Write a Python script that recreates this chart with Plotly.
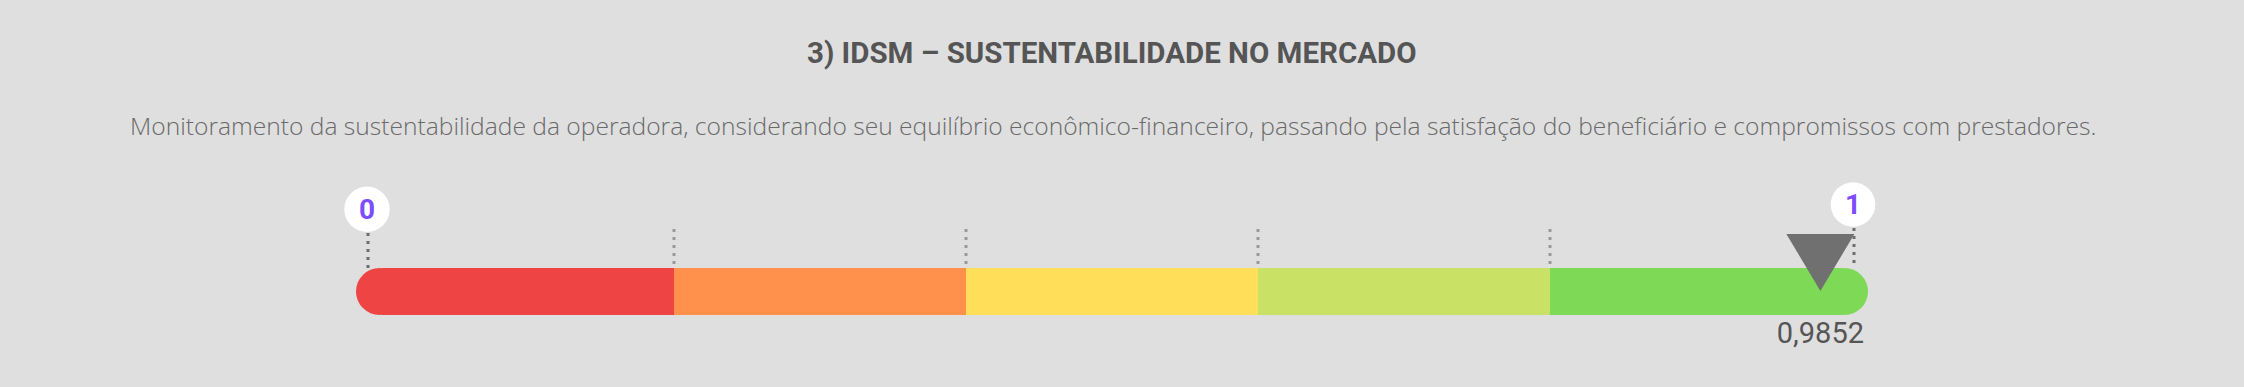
import plotly.graph_objects as go

# ---- data ----
title = "3) IDSM – SUSTENTABILIDADE NO MERCADO"
subtitle = ("Monitoramento da sustentabilidade da operadora, considerando seu equilíbrio "
            "econômico-financeiro, passando pela satisfação do beneficiário e compromissos com prestadores.")
thresholds = [0.0, 0.2, 0.4, 0.6, 0.8, 1.0]
band_colors = ["#EF4444", "#FF914D", "#FFDE59", "#C9E265", "#7ED957"]
scale_min, scale_max = 0, 1
value = 0.9852

W, H = 2244, 387
BG = "#DFDFDF"

# axis mapping: score 0..1 spans 1460 px starting at px 382
px0, span = 382.0, 1460.0
xr = [-px0 / span, (W - px0) / span]

bar_y, bar_h = 291.5, 47

fig = go.Figure()
fig.add_trace(go.Bar(
    orientation="h",
    base=thresholds[:-1],
    x=[thresholds[i + 1] - thresholds[i] for i in range(len(band_colors))],
    y=[bar_y] * len(band_colors),
    width=bar_h,
    marker=dict(color=band_colors, line=dict(width=0)),
    hoverinfo="skip",
    showlegend=False,
))

# value label
fig.add_trace(go.Scatter(
    x=[value], y=[336], mode="text",
    text=[f"{value:.4f}".replace(".", ",")],
    textfont=dict(family="Roboto", size=29, color="#555555"),
    hoverinfo="skip", showlegend=False,
))

shapes = []
# rounded caps
shapes.append(dict(type="circle", xref="x", yref="y", xsizemode="pixel", xanchor=thresholds[0],
                   x0=-26, x1=21, y0=bar_y - bar_h / 2, y1=bar_y + bar_h / 2,
                   fillcolor=band_colors[0], line=dict(width=0), layer="below"))
shapes.append(dict(type="circle", xref="x", yref="y", xsizemode="pixel", xanchor=thresholds[-1],
                   x0=-21, x1=26, y0=bar_y - bar_h / 2, y1=bar_y + bar_h / 2,
                   fillcolor=band_colors[-1], line=dict(width=0), layer="below"))

# dotted separators
for t in thresholds[1:-1]:
    shapes.append(dict(type="line", xref="x", yref="y", x0=t, x1=t, y0=229, y1=267,
                       line=dict(color="#9A9A9A", width=3, dash="3px,5px")))

# end markers
ends = [(scale_min, -15, 209.3, 22.7, 233), (scale_max, 11, 204.5, 22.3, 228)]
for v, dx, cy, r, ly in ends:
    shapes.append(dict(type="line", xref="x", yref="y", xsizemode="pixel", xanchor=v,
                       x0=dx + 1, x1=dx + 1, y0=ly, y1=268,
                       line=dict(color="#6E6E6E", width=3, dash="3px,5px")))
    shapes.append(dict(type="circle", xref="x", yref="y", xsizemode="pixel", xanchor=v,
                       x0=dx - r, x1=dx + r, y0=cy - r, y1=cy + r,
                       fillcolor="#FFFFFF", line=dict(width=0)))

# pointer triangle
shapes.append(dict(type="path", xref="x", yref="y", xsizemode="pixel", xanchor=value,
                   path="M -34,234 L 34,234 L 0,291 Z",
                   fillcolor="#707070", line=dict(width=0)))

annotations = [
    dict(text=f"<b>{title}</b>", x=1112 / W, y=53, xref="paper", yref="y",
         showarrow=False, xanchor="center", yanchor="middle",
         font=dict(family="Roboto", size=29.5, color="#555555")),
    dict(text=subtitle, x=1113 / W, y=125, xref="paper", yref="y",
         showarrow=False, xanchor="center", yanchor="middle",
         font=dict(family="Open Sans", size=24.6, color="#6A6A6A", weight=300)),
]
for v, dx, cy, r, ly in ends:
    annotations.append(dict(text=f"<b>{v}</b>", x=v, y=cy, xref="x", yref="y", xshift=dx,
                            showarrow=False, xanchor="center", yanchor="middle",
                            font=dict(family="Roboto", size=28, color="#7C4DFF")))

fig.update_layout(
    width=W, height=H,
    margin=dict(l=0, r=0, t=0, b=0),
    paper_bgcolor=BG, plot_bgcolor=BG,
    xaxis=dict(range=xr, visible=False, fixedrange=True),
    yaxis=dict(range=[H, 0], visible=False, fixedrange=True),
    shapes=shapes, annotations=annotations,
    bargap=0, barmode="overlay",
)
fig.write_html(
    "out.html",
    config={"displayModeBar": False},
    post_script="document.body.style.margin='0';document.body.style.overflow='hidden';"
                "document.body.style.background='#DFDFDF';",
)
